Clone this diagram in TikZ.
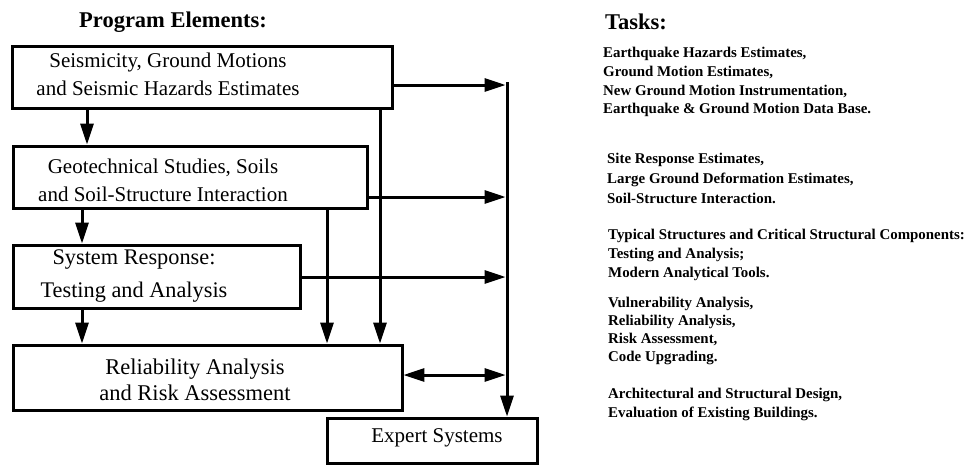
\documentclass[tikz,border=0pt]{standalone}
\usepackage{fontspec}
\setmainfont{Liberation Serif}
\usetikzlibrary{arrows.meta}
\begin{document}
\begin{tikzpicture}[x=1pt,y=-1pt,
  box/.style={draw, line width=3pt, inner sep=0pt, outer sep=0pt, anchor=north west},
  lbl/.style={font=\fontsize{21}{28}\selectfont, align=center, inner sep=0pt},
  task/.style={font=\bfseries\fontsize{14.9}{18.8}\selectfont, align=left, anchor=north west, inner sep=0pt},
  head/.style={font=\bfseries\fontsize{22.5}{26}\selectfont, inner sep=0pt},
  conn/.style={line width=3pt},
  arr/.style={conn, -{Triangle[length=21pt,width=13pt]}, shorten >=1.4pt},
  darr/.style={conn, {Triangle[length=21pt,width=13pt]}-{Triangle[length=21pt,width=13pt]}, shorten >=1.4pt, shorten <=1.4pt},
]
\useasboundingbox (0,0) rectangle (972,466);

% boxes
\node[box, minimum width=380, minimum height=62] (b1) at (12,46) {};
\node[box, minimum width=354, minimum height=62] (b2) at (13,146) {};
\node[box, minimum width=287, minimum height=63] (b3) at (13,245) {};
\node[box, minimum width=389, minimum height=65] (b4) at (13,345) {};
\node[box, minimum width=210, minimum height=45] (ex) at (327,418) {};

% box texts
\node[lbl] (t1) at (168,74) {Seismicity, Ground Motions\\and Seismic Hazards Estimates};
\node[lbl] (t2) at (163,180) {Geotechnical Studies, Soils\\and Soil-Structure Interaction};
\node[lbl, font=\fontsize{22.3}{33}\selectfont] (t3) at (134,276) {System Response:\\Testing and Analysis};
\node[lbl, font=\fontsize{22.5}{26}\selectfont] (t4) at (195,380) {Reliability Analysis\\and Risk Assessment};
\node[lbl] (t5) at (437,438) {Expert Systems};

% headings
\node[head] (ph) at (173,22) {Program Elements:};
\node[head] (th) at (636,22) {Tasks:};

% tasks
\node[task] (g1) at (603,47) {Earthquake Hazards Estimates,\\Ground Motion Estimates,\\New Ground Motion Instrumentation,\\Earthquake \& Ground Motion Data Base.};
\node[task, font=\bfseries\fontsize{14.9}{20}\selectfont] (g2) at (607,153) {Site Response Estimates,\\Large Ground Deformation Estimates,\\Soil-Structure Interaction.};
\node[task] (g3) at (608,229) {Typical Structures and Critical Structural Components:\\Testing and Analysis;\\Modern Analytical Tools.};
\node[task, font=\bfseries\fontsize{14.9}{18}\selectfont] (g4) at (608,297) {Vulnerability Analysis,\\Reliability Analysis,\\Risk Assessment,\\Code Upgrading.};
\node[task] (g5) at (608,388) {Architectural and Structural Design,\\Evaluation of Existing Buildings.};

% column coordinates
\coordinate (c1) at (87,0);
\coordinate (c2) at (82,0);
\coordinate (v1) at (380,0);
\coordinate (v2) at (327,0);
\coordinate (bt) at (507,82);
\coordinate (h1) at (0,85);
\coordinate (h2) at (0,197);
\coordinate (h3) at (0,277);
\coordinate (h4) at (0,375);

% connectors
\draw[arr] (b1.south -| c1) -- (b2.north -| c1);
\draw[arr] (b2.south -| c2) -- (b3.north -| c2);
\draw[arr] (b3.south -| c2) -- (b4.north -| c2);
\draw[arr] (b1.south -| v1) -- (b4.north -| v1);
\draw[arr] (b2.south -| v2) -- (b4.north -| v2);
\draw[arr] (bt) -- (bt |- ex.north);
\draw[arr] (b1.east |- h1) -- (bt |- h1);
\draw[arr] (b2.east |- h2) -- (bt |- h2);
\draw[arr] (b3.east |- h3) -- (bt |- h3);
\draw[darr] (b4.east |- h4) -- (bt |- h4);
\end{tikzpicture}
\end{document}
